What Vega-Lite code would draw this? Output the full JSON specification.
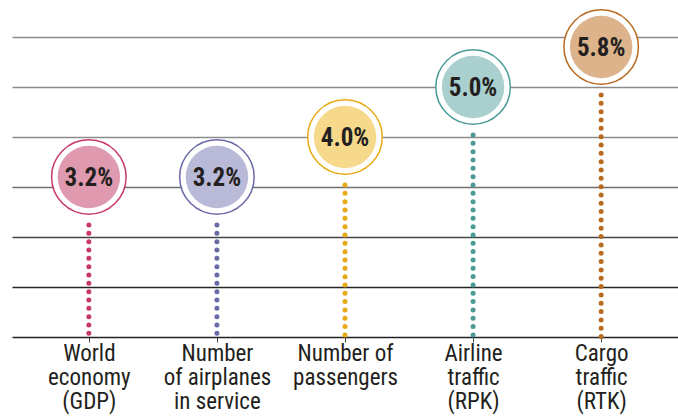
{
  "$schema": "https://vega.github.io/schema/vega-lite/v6.json",
  "width": 666,
  "height": 300,
  "autosize": {"type": "none"},
  "padding": {"left": 12, "top": 37, "right": 0, "bottom": 82},
  "background": "white",
  "config": {"view": {"stroke": null}},
  "data": {
    "values": [
      {"label": "World|economy|(GDP)", "value": 3.2, "text": "3.2%", "cat": "gdp"},
      {"label": "Number|of airplanes|in service", "value": 3.2, "text": "3.2%", "cat": "air"},
      {"label": "Number of|passengers", "value": 4.0, "text": "4.0%", "cat": "pax"},
      {"label": "Airline|traffic|(RPK)", "value": 5.0, "text": "5.0%", "cat": "rpk"},
      {"label": "Cargo|traffic|(RTK)", "value": 5.8, "text": "5.8%", "cat": "rtk"}
    ]
  },
  "encoding": {
    "x": {
      "field": "label",
      "type": "nominal",
      "sort": null,
      "scale": {"type": "point", "padding": 0.6},
      "axis": {
        "title": null,
        "labelAngle": 0,
        "labelExpr": "split(datum.label, '|')",
        "labelFont": "Roboto Condensed, DejaVu Sans Condensed, Liberation Sans Narrow, Arial Narrow, Roboto, sans-serif",
        "labelFontSize": 23,
        "labelLineHeight": 24,
        "labelColor": "#231f20",
        "labelPadding": 0,
        "labelBaseline": "top",
        "domain": true,
        "domainColor": "#222222",
        "domainWidth": 1.5,
        "ticks": true,
        "tickSize": 5,
        "tickColor": "#444444",
        "tickWidth": 1,
        "grid": false
      }
    },
    "y": {
      "field": "value",
      "type": "quantitative",
      "scale": {"domain": [0, 6], "nice": false, "zero": true},
      "axis": {
        "title": null,
        "values": [1, 2, 3, 4, 5, 6],
        "grid": true,
        "gridWidth": 1.5,
        "gridColor": {
          "condition": [
            {"test": "datum.value >= 4", "value": "#8c8c8c"},
            {"test": "datum.value == 3", "value": "#707070"},
            {"test": "datum.value == 2", "value": "#454545"}
          ],
          "value": "#262626"
        },
        "domain": false,
        "ticks": false,
        "labels": false
      }
    }
  },
  "layer": [
    {
      "mark": {
        "type": "rule",
        "strokeWidth": 5,
        "strokeCap": "round",
        "strokeDash": [0, 8.33],
        "strokeDashOffset": 0,
        "yOffset": 48
      },
      "encoding": {
        "y2": {"datum": 0},
        "color": {
          "field": "cat",
          "type": "nominal",
          "legend": null,
          "scale": {
            "domain": ["gdp", "air", "pax", "rpk", "rtk"],
            "range": ["#c83a63", "#6a6aa8", "#e8aa14", "#4a9a98", "#b86a20"]
          }
        }
      }
    },
    {
      "mark": {"type": "point", "shape": "circle", "filled": false, "fill": "white", "fillOpacity": 1, "strokeWidth": 1.5, "size": 5550, "opacity": 1},
      "encoding": {
        "stroke": {
          "field": "cat",
          "type": "nominal",
          "legend": null,
          "scale": {
            "domain": ["gdp", "air", "pax", "rpk", "rtk"],
            "range": ["#c83a63", "#6a6aa8", "#e8aa14", "#4a9a98", "#b86a20"]
          }
        }
      }
    },
    {
      "mark": {"type": "point", "shape": "circle", "filled": true, "strokeWidth": 0, "size": 3900, "opacity": 1},
      "encoding": {
        "fill": {
          "field": "cat",
          "type": "nominal",
          "legend": null,
          "scale": {
            "domain": ["gdp", "air", "pax", "rpk", "rtk"],
            "range": ["#e09aaf", "#b9b9d8", "#f7d98b", "#a9cfce", "#dcb38a"]
          }
        }
      }
    },
    {
      "mark": {"type": "text", "font": "Roboto Condensed, DejaVu Sans Condensed, Liberation Sans Narrow, Arial Narrow, Roboto, sans-serif", "fontWeight": "bold", "fontSize": 25, "color": "#231f20", "baseline": "middle", "align": "center", "dy": 1},
      "encoding": {
        "text": {"field": "text"}
      }
    }
  ]
}
